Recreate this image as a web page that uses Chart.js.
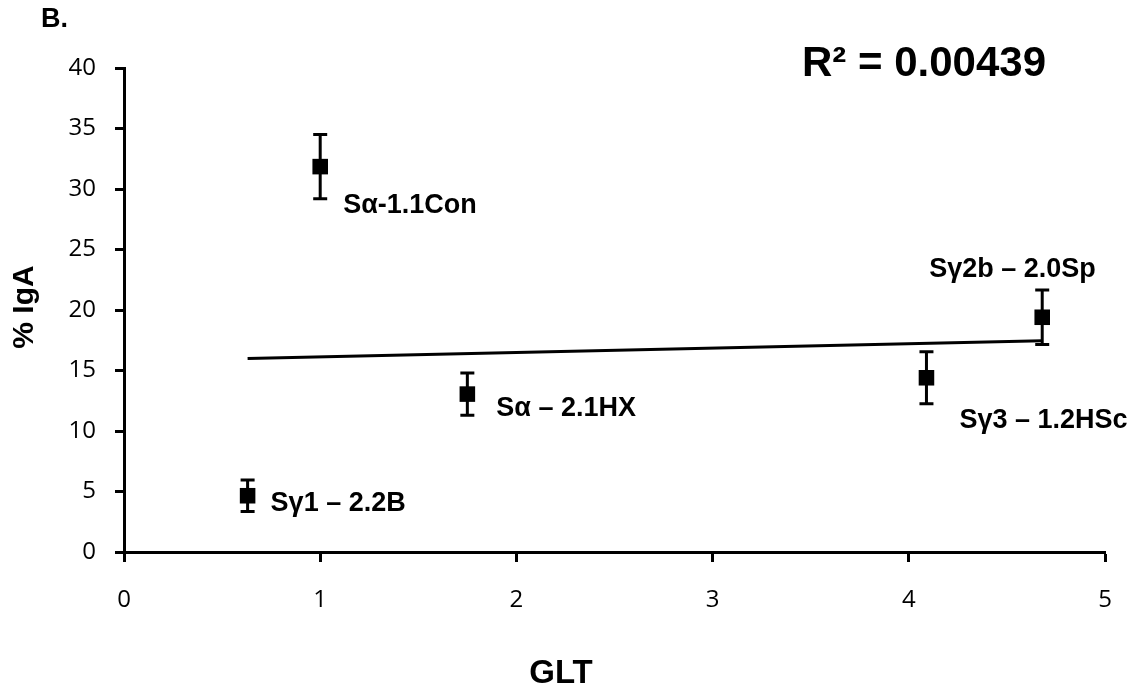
<!DOCTYPE html>
<html>
<head>
<meta charset="utf-8">
<script src="https://cdn.jsdelivr.net/npm/chart.js@4/dist/chart.umd.min.js"></script>
<style>
  html, body { margin: 0; padding: 0; background: #fff; }
  #wrap { width: 1136px; height: 696px; position: relative; }
</style>
</head>
<body>
<div id="wrap"><canvas id="gltChart"></canvas></div>
<script>
// strain labels, GLT level and % IgA with its error
const strains = ['Sγ1 – 2.2B', 'Sα-1.1Con', 'Sα – 2.1HX', 'Sγ3 – 1.2HSc', 'Sγ2b – 2.0Sp'];
const gltValues = [0.63, 1.0, 1.75, 4.09, 4.68];
const igaValues = [4.65, 31.85, 13.05, 14.4, 19.4];
const igaErrors = [1.3, 2.65, 1.75, 2.15, 2.25];

// linear fit drawn between first and last GLT value
const trendX = [0.63, 4.68];
const trendY = [16.0, 17.45];
const rSquared = '0.00439';

const xTicks = [0, 1, 2, 3, 4, 5];
const yTicks = [0, 5, 10, 15, 20, 25, 30, 35, 40];

// where each strain label sits relative to its marker (px)
const labelOffsets = [[23, 8], [23, 39], [29, 14], [33, 43], [-113, -48]];

const boldFont = '"Liberation Sans", Arial, sans-serif';
const tickFont = '"Open Sans", sans-serif';

const errorBars = {
  id: 'errorBars',
  afterDatasetsDraw(chart) {
    const { ctx, scales: { x, y } } = chart;
    ctx.save();
    ctx.strokeStyle = '#000';
    ctx.lineWidth = 3;
    gltValues.forEach((g, i) => {
      const px = x.getPixelForValue(g);
      const top = y.getPixelForValue(igaValues[i] + igaErrors[i]);
      const bot = y.getPixelForValue(igaValues[i] - igaErrors[i]);
      ctx.beginPath();
      ctx.moveTo(px, top); ctx.lineTo(px, bot);
      ctx.moveTo(px - 7, top); ctx.lineTo(px + 7, top);
      ctx.moveTo(px - 7, bot); ctx.lineTo(px + 7, bot);
      ctx.stroke();
    });
    ctx.restore();
  }
};

const textLayer = {
  id: 'textLayer',
  afterDraw(chart) {
    const { ctx, scales: { x, y } } = chart;
    ctx.save();
    ctx.fillStyle = '#000';
    ctx.textBaseline = 'middle';

    ctx.font = 'bold 27px ' + boldFont;
    ctx.textAlign = 'left';
    strains.forEach((s, i) => {
      const px = x.getPixelForValue(gltValues[i]);
      const py = y.getPixelForValue(igaValues[i]);
      ctx.fillText(s, px + labelOffsets[i][0], py + labelOffsets[i][1]);
    });

    ctx.font = 'bold 27px ' + boldFont;
    ctx.fillText('B.', 41, 20);

    ctx.font = 'bold 42px ' + boldFont;
    ctx.fillText('R² = ' + rSquared, 802, 64);

    ctx.textAlign = 'center';
    ctx.font = 'bold 33px ' + boldFont;
    ctx.fillText('GLT', 561, 674);

    ctx.translate(25, 307);
    ctx.rotate(-Math.PI / 2);
    ctx.font = 'bold 30px ' + boldFont;
    ctx.fillText('% IgA', 0, 0);
    ctx.restore();
  }
};

new Chart(document.getElementById('gltChart'), {
  type: 'scatter',
  data: {
    datasets: [
      {
        label: 'Trend',
        type: 'line',
        data: trendX.map((v, i) => ({ x: v, y: trendY[i] })),
        borderColor: '#000',
        borderWidth: 3,
        pointRadius: 0,
        fill: false
      },
      {
        label: '% IgA',
        data: gltValues.map((v, i) => ({ x: v, y: igaValues[i] })),
        pointStyle: 'rect',
        pointRadius: 11,
        backgroundColor: '#000',
        borderWidth: 0
      }
    ]
  },
  options: {
    responsive: true,
    maintainAspectRatio: false,
    animation: false,
    layout: { padding: { top: 68, right: 31, left: 0, bottom: 0 } },
    plugins: { legend: { display: false }, tooltip: { enabled: false } },
    scales: {
      x: {
        type: 'linear',
        min: 0,
        max: 5,
        afterBuildTicks: s => { s.ticks = xTicks.map(v => ({ value: v })); },
        afterFit: s => { s.height = 144; },
        border: { color: '#000', width: 3 },
        grid: { drawOnChartArea: false, drawTicks: true, tickLength: 10, tickColor: '#000', tickWidth: 3 },
        ticks: { color: '#000', font: { family: tickFont, size: 24 }, padding: 24 }
      },
      y: {
        min: 0,
        max: 40,
        afterBuildTicks: s => { s.ticks = yTicks.map(v => ({ value: v })); },
        afterFit: s => { s.width = 124; },
        border: { color: '#000', width: 3 },
        grid: { drawOnChartArea: false, drawTicks: true, tickLength: 9, tickColor: '#000', tickWidth: 3 },
        ticks: { color: '#000', font: { family: tickFont, size: 24 }, padding: 19 }
      }
    }
  },
  plugins: [errorBars, textLayer]
});
</script>
</body>
</html>
